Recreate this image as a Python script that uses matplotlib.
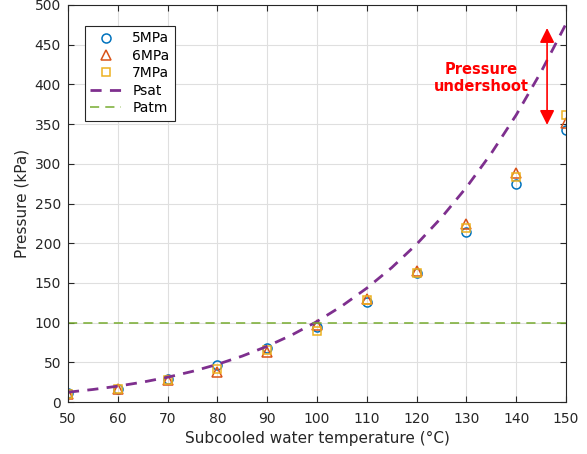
import matplotlib.pyplot as plt
import numpy as np

# subcooled water temperature (C)
temp = [50, 60, 70, 80, 90, 100, 110, 120, 130, 140, 150]
p_5mpa = [11, 17, 29, 46, 68, 95, 126, 162, 214, 274, 342]
p_6mpa = [10, 16, 28, 38, 63, 97, 130, 165, 224, 289, 352]
p_7mpa = [10, 17, 28, 42, 65, 90, 128, 163, 219, 283, 362]

# saturation pressure (kPa), steam table
temp_sat = [50, 55, 60, 65, 70, 75, 80, 85, 90, 95, 100, 105, 110, 115, 120,
            125, 130, 135, 140, 145, 150]
p_sat = [12.35, 15.76, 19.95, 25.03, 31.2, 38.58, 47.4, 57.87, 70.2, 84.61,
         101.4, 120.9, 143.4, 169.2, 198.7, 232.3, 270.3, 313.2, 361.5, 415.9, 476.2]
p_atm = 100

plt.rcParams['font.family'] = ['DejaVu Sans']
fig = plt.figure(figsize=(5.87, 4.54), dpi=100)
ax = fig.add_axes([68/587, 1-402/454, 498/587, 397/454])

ax.plot(temp, p_5mpa, 'o', mfc='none', mec='#0072BD', ms=6.5, mew=1.1, label='5MPa')
ax.plot(temp, p_6mpa, '^', mfc='none', mec='#D95319', ms=7, mew=1.1, label='6MPa')
ax.plot(temp, p_7mpa, 's', mfc='none', mec='#EDB120', ms=5.5, mew=1.1, label='7MPa')
ax.plot(temp_sat, p_sat, '--', color='#7E2F8E', lw=2, dashes=(4, 3), label='Psat')
ax.axhline(p_atm, color='#77AC30', lw=1.1, ls='--', dashes=(6, 4), label='Patm')

ax.annotate('', xy=(146.2, 349), xytext=(146.2, 471),
            arrowprops=dict(arrowstyle='<|-|>', color='red', lw=1.2,
                            mutation_scale=22, shrinkA=0, shrinkB=0))
ax.text(133.0, 408, 'Pressure\nundershoot', color='red', fontsize=10.5,
        fontweight='bold', ha='center', va='center', linespacing=1.1)

ax.set_xlim(50, 150)
ax.set_ylim(0, 500)
ax.set_xticks(range(50, 151, 10))
ax.set_yticks(range(0, 501, 50))
ax.grid(True, color='#dfdfdf', lw=0.8)
ax.set_axisbelow(True)
for s in ax.spines.values():
    s.set_color('#262626')
ax.tick_params(colors='#262626', labelsize=10, direction='in', length=4, top=True, right=True,
               labeltop=False, labelright=False)
ax.tick_params(axis='x', pad=7)
ax.tick_params(axis='y', pad=5)
ax.set_xlabel('Subcooled water temperature (°C)', fontsize=11, color='#262626')
ax.set_ylabel('Pressure (kPa)', fontsize=11, color='#262626')

leg = ax.legend(loc='upper left', bbox_to_anchor=(0.02, 0.965), fontsize=10,
                fancybox=False, edgecolor='#262626', framealpha=1,
                handlelength=2.2, borderpad=0.4, labelspacing=0.25)
leg.get_frame().set_linewidth(0.8)

fig.savefig('out.png', dpi=100)
